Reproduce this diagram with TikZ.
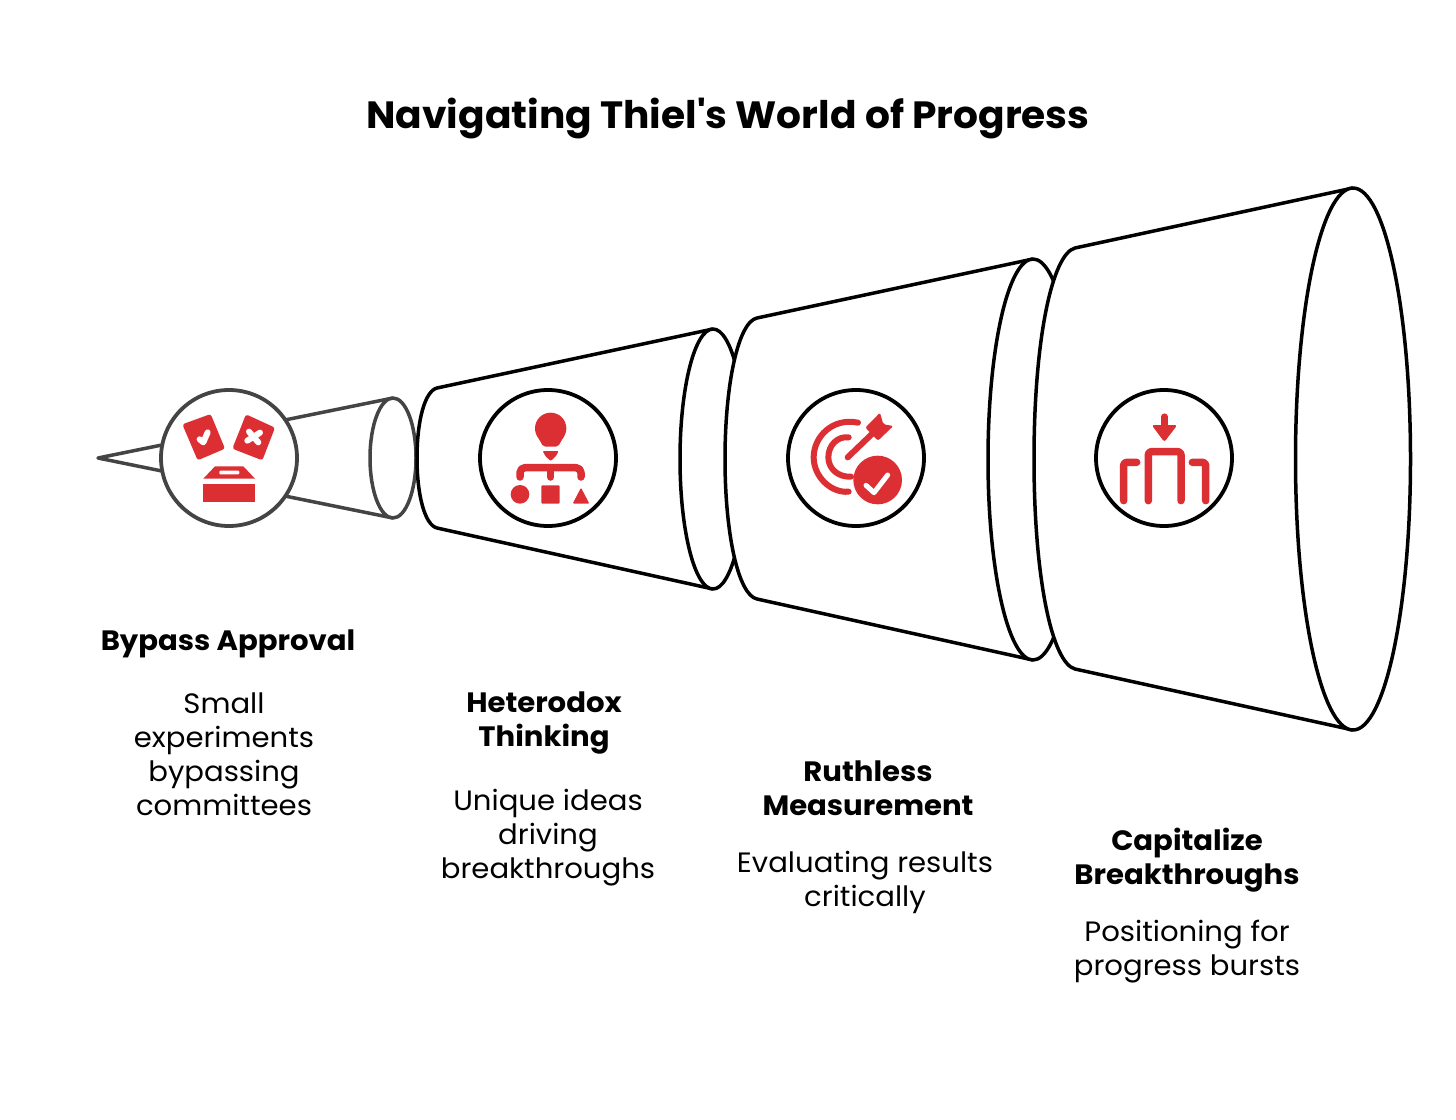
\documentclass[tikz,border=0pt]{standalone}
\usepackage{fontspec}
\setmainfont[FakeStretch=1.04]{Poppins}
\newfontfamily\titlefont[FakeStretch=1.03,BoldFeatures={FakeStretch=1.03}]{Poppins}
\definecolor{iconred}{HTML}{DC2F34}
\definecolor{greyline}{HTML}{444444}
\tikzset{
  cone/.style={draw=black,fill=white,line width=3.5pt,line join=round},
  greycone/.style={draw=greyline,fill=white,line width=3.5pt,line join=round},
  badge/.style={circle,draw=black,fill=white,line width=3.8pt,minimum size=136pt,inner sep=0pt},
  greybadge/.style={badge,draw=greyline},
  redline/.style={draw=iconred,line cap=round,line join=round},
  whiteline/.style={draw=white,line cap=round,line join=round},
  head/.style={font=\fontsize{28}{34}\selectfont\bfseries,align=center,inner sep=0pt},
  body/.style={font=\fontsize{28}{34}\selectfont,align=center,inner sep=0pt},
  titletext/.style={font=\titlefont\fontsize{38}{44}\selectfont\bfseries,inner sep=0pt},
}
\begin{document}
\begin{tikzpicture}[x=1pt,y=-1pt]
\useasboundingbox (0,0) rectangle (1456,1119);
\fill[white] (0,0) rectangle (1456,1119);
\node[titletext] (title) at (728,119) {Navigating Thiel's World of Progress};
% cone 1
\path[fill=white] (98,458) -- (393,398) -- (393,518) -- cycle;
\draw[greycone,fill=none] (393,398) -- (98,458) -- (393,518);
\draw[greycone] (393,458) ellipse [x radius=23,y radius=60];
\node[greybadge] (b1) at (229,458) {};
% cone 2
\path[fill=white] (713,329) -- (437,388) .. controls (425,391) and (417,420) .. (417,458) .. controls (417,496) and (425,525) .. (437,528) -- (713,589) -- cycle;
\draw[cone,fill=none] (713,329) -- (437,388) .. controls (425,391) and (417,420) .. (417,458) .. controls (417,496) and (425,525) .. (437,528) -- (713,589);
\draw[cone] (713,459) ellipse [x radius=33,y radius=130];
\node[badge] (b2) at (548,458) {};
% cone 3
\path[fill=white] (1033,259) -- (757,318) .. controls (738,322) and (725,385) .. (725,459) .. controls (725,533) and (738,595) .. (757,599) -- (1033,660) -- cycle;
\draw[cone,fill=none] (1033,259) -- (757,318) .. controls (738,322) and (725,385) .. (725,459) .. controls (725,533) and (738,595) .. (757,599) -- (1033,660);
\draw[cone] (1033,459.5) ellipse [x radius=45,y radius=200.5];
\node[badge] (b3) at (856,458) {};
% cone 4
\path[fill=white] (1353,188) -- (1075,248) .. controls (1052,254) and (1034,340) .. (1034,459) .. controls (1034,578) and (1052,663) .. (1075,669) -- (1353,730) -- cycle;
\draw[cone,fill=none] (1353,188) -- (1075,248) .. controls (1052,254) and (1034,340) .. (1034,459) .. controls (1034,578) and (1052,663) .. (1075,669) -- (1353,730);
\draw[cone] (1353,459) ellipse [x radius=57.5,y radius=271];
\node[badge] (b4) at (1164,458) {};
% icon 1
\begin{scope}[shift={(90,370)},x=0.33333pt,y=-0.33333pt]
\fill[iconred,rounded corners=2.5pt] (277,163) -- (362,132) -- (405,236) -- (323,271) -- cycle;
\fill[iconred,rounded corners=2.5pt] (468,133) -- (555,173) -- (517,271) -- (427,236) -- cycle;
\draw[whiteline,line width=6pt] (329,208) -- (340,217) -- (353,187);
\draw[whiteline,line width=6pt] (477,185) -- (505,217) (510,188) -- (472,212);
\fill[iconred] (340,326) -- (375,289) -- (460,289) -- (495,326) -- cycle;
\fill[white,rounded corners=1pt] (388,302) rectangle (448,313);
\fill[iconred] (340,342) rectangle (495,397);
\end{scope}
% icon 2
\begin{scope}[shift={(470,380)},x=0.33333pt,y=-0.33333pt]
\fill[iconred] (242,145) circle [radius=47];
\fill[iconred,rounded corners=2pt] (200,165) -- (284,165) -- (264,200) -- (220,200) -- cycle;
\fill[iconred,rounded corners=1pt] (218,213) -- (266,213) -- (258,228) -- (242,243) -- (226,228) -- cycle;
\draw[redline,line width=7.5pt,rounded corners=5pt] (150,291) -- (150,263) -- (333,263) -- (333,291);
\draw[redline,line width=7.5pt] (242,263) -- (242,291);
\fill[iconred] (150,343) circle [radius=28];
\fill[iconred,rounded corners=1pt] (214,316) rectangle (269,371);
\fill[iconred,rounded corners=1pt] (333,323) -- (358,371) -- (308,371) -- cycle;
\end{scope}
% icon 3
\begin{scope}[shift={(776,380)},x=0.33333pt,y=-0.33333pt]
\draw[redline,line width=6pt] (246,128) .. controls (170,112) and (113,170) .. (113,232) .. controls (113,290) and (165,340) .. (218,335);
\draw[redline,line width=6pt] (218,172) .. controls (185,168) and (157,195) .. (157,232) .. controls (157,265) and (185,292) .. (225,290);
\draw[redline,line width=6pt] (215,232) -- (290,160);
\fill[iconred,rounded corners=2pt] (312,98) -- (322,133) -- (352,138) -- (306,182) -- (268,143) -- cycle;
\fill[iconred] (305,300) circle [radius=73];
\draw[whiteline,line width=5pt] (270,316) -- (294,338) -- (335,285);
\end{scope}
% icon 4
\begin{scope}[shift={(1085,380)},x=0.33333pt,y=-0.33333pt]
\draw[redline,line width=6.5pt] (238,110) -- (238,145);
\fill[iconred,rounded corners=2.5pt] (200,135) -- (277,135) -- (238,186) -- cycle;
\draw[redline,line width=7.5pt,rounded corners=3pt] (190,362) -- (190,215) -- (288,215) -- (288,362);
\draw[redline,line width=7.5pt,rounded corners=3pt] (155,247) -- (116,247) -- (116,362);
\draw[redline,line width=7.5pt,rounded corners=3pt] (322,247) -- (362,247) -- (362,362);
\end{scope}
% text
\node[head] (h1) at (228,644) {Bypass Approval};
\node[body] (t1) at (224,754) {Small\\experiments\\bypassing\\committees};
\node[head] (h2) at (544,723) {Heterodox\\Thinking};
\node[body] (t2) at (548,838) {Unique ideas\\driving\\breakthroughs};
\node[head] (h3) at (868,788) {Ruthless\\Measurement};
\node[body] (t3) at (865,882) {Evaluating results\\critically};
\node[head] (h4) at (1187,860) {Capitalize\\Breakthroughs};
\node[body] (t4) at (1187,952) {Positioning for\\progress bursts};
\end{tikzpicture}
\end{document}
